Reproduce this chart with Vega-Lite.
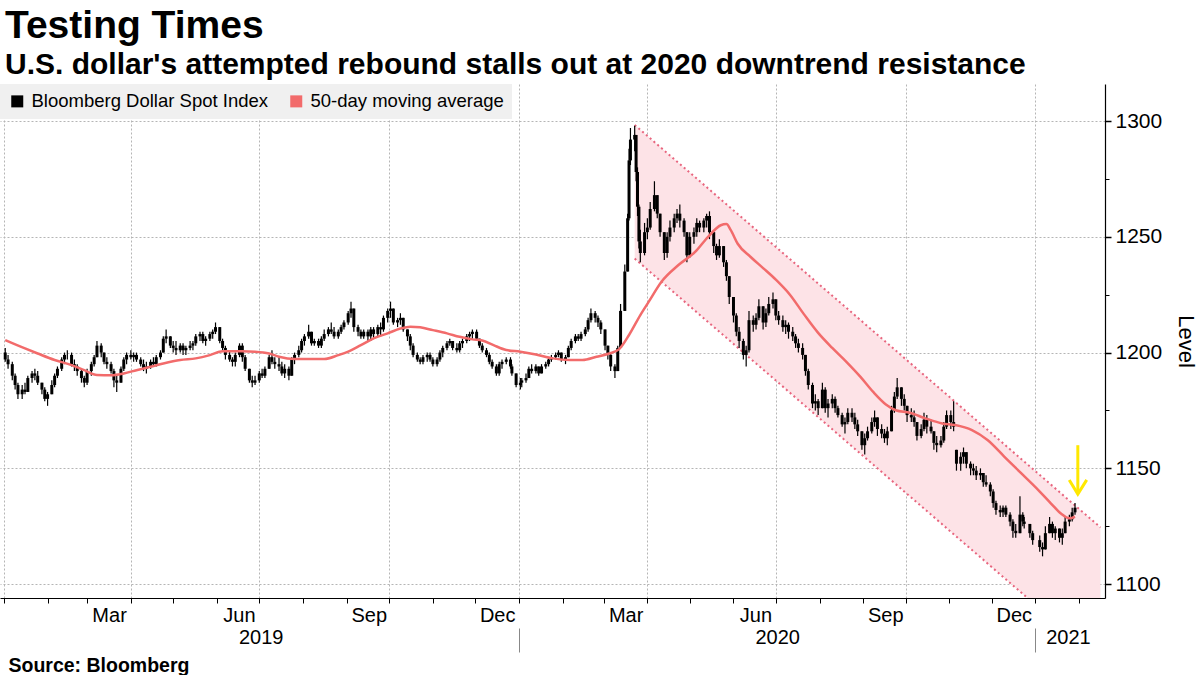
{
"$schema": "https://vega.github.io/schema/vega-lite/v6.json",
"width": 1105, "height": 514,
"autosize": {"type": "none"},
"padding": {"left": 0, "top": 84, "right": 95, "bottom": 77},
"background": "white",
"title": {"text": "Testing Times", "subtitle": "U.S. dollar's attempted rebound stalls out at 2020 downtrend resistance", "anchor": "start", "frame": "group", "dx": 5, "offset": 4, "font": "Liberation Sans", "fontSize": 39, "fontWeight": "bold", "color": "#000", "subtitleFont": "Liberation Sans", "subtitleFontSize": 30, "subtitleFontWeight": "bold", "subtitleColor": "#000", "subtitlePadding": 4},
"config": {"view": {"stroke": null}, "font": "Liberation Sans", "axis": {"labelFont": "Liberation Sans", "titleFont": "Liberation Sans", "labelColor": "#000", "titleColor": "#000"}},
"resolve": {"axis": {"x": "independent", "y": "independent"}},
"datasets": {
"ch": [{"d": "2020-03-23", "lo": 1240.6, "up": 1298.3}, {"d": "2021-02-16", "lo": 1066.8, "up": 1124.5}],
"ln": [{"d": "2020-03-23", "v": 1298.3, "k": "u"}, {"d": "2021-02-16", "v": 1124.5, "k": "u"}, {"d": "2020-03-23", "v": 1240.6, "k": "l"}, {"d": "2021-02-16", "v": 1066.8, "k": "l"}],
"ar": [{"d": "2021-01-31T00:00:00Z", "v": 1160.0, "g": "s"}, {"d": "2021-01-31T00:00:00Z", "v": 1139.2, "g": "s"}, {"d": "2021-01-24T22:00:00Z", "v": 1145.0, "g": "h"}, {"d": "2021-01-31T00:00:00Z", "v": 1138.9, "g": "h"}, {"d": "2021-02-06T07:00:00Z", "v": 1145.0, "g": "h"}],
"ma": [
{"d":"2019-01-02","v":1205.4},{"d":"2019-01-16","v":1201.8},{"d":"2019-01-25","v":1199.6},{"d":"2019-02-06","v":1196.8},{"d":"2019-02-18","v":1194.6},{"d":"2019-02-27","v":1192.4},{"d":"2019-03-08","v":1190.3},{"d":"2019-03-18","v":1190.2},{"d":"2019-03-27","v":1191.0},{"d":"2019-04-05","v":1192.4},{"d":"2019-04-15","v":1193.9},{"d":"2019-04-24","v":1195.3},{"d":"2019-05-06","v":1196.8},{"d":"2019-05-17","v":1197.5},{"d":"2019-05-27","v":1198.9},{"d":"2019-06-05","v":1200.6},{"d":"2019-06-19","v":1200.6},{"d":"2019-06-28","v":1200.4},{"d":"2019-07-08","v":1199.6},{"d":"2019-07-15","v":1198.2},{"d":"2019-07-26","v":1197.2},{"d":"2019-08-16","v":1197.2},{"d":"2019-08-26","v":1198.9},{"d":"2019-09-02","v":1200.4},{"d":"2019-09-11","v":1203.2},{"d":"2019-09-20","v":1206.1},{"d":"2019-09-30","v":1208.3},{"d":"2019-10-09","v":1210.4},{"d":"2019-10-16","v":1211.2},{"d":"2019-10-23","v":1210.9},{"d":"2019-11-01","v":1209.7},{"d":"2019-11-11","v":1208.3},{"d":"2019-11-20","v":1206.8},{"d":"2019-11-29","v":1205.7},{"d":"2019-12-06","v":1205.2},{"d":"2019-12-14","v":1203.2},{"d":"2019-12-23","v":1201.1},{"d":"2020-01-02","v":1200.4},{"d":"2020-01-13","v":1199.2},{"d":"2020-01-25","v":1197.5},{"d":"2020-02-06","v":1196.8},{"d":"2020-02-15","v":1196.8},{"d":"2020-02-25","v":1198.2},{"d":"2020-03-05","v":1199.6},{"d":"2020-03-12","v":1201.5},{"d":"2020-03-19","v":1207.6},{"d":"2020-03-27","v":1216.2},{"d":"2020-04-02","v":1222.0},{"d":"2020-04-11","v":1230.6},{"d":"2020-04-23","v":1237.8},{"d":"2020-05-05","v":1243.6},{"d":"2020-05-14","v":1250.0},{"d":"2020-05-23","v":1255.0},{"d":"2020-05-27","v":1255.5},{"d":"2020-05-30","v":1253.0},{"d":"2020-06-04","v":1247.0},{"d":"2020-06-13","v":1241.4},{"d":"2020-06-22","v":1236.5},{"d":"2020-07-01","v":1231.5},{"d":"2020-07-11","v":1225.0},{"d":"2020-07-21","v":1216.5},{"d":"2020-07-31","v":1208.5},{"d":"2020-08-10","v":1202.0},{"d":"2020-08-20","v":1196.0},{"d":"2020-08-30","v":1189.5},{"d":"2020-09-08","v":1183.0},{"d":"2020-09-17","v":1177.6},{"d":"2020-09-24","v":1175.1},{"d":"2020-10-04","v":1174.0},{"d":"2020-10-15","v":1171.6},{"d":"2020-10-27","v":1169.4},{"d":"2020-11-05","v":1168.7},{"d":"2020-11-17","v":1166.5},{"d":"2020-11-28","v":1162.2},{"d":"2020-12-10","v":1155.0},{"d":"2020-12-22","v":1147.8},{"d":"2021-01-03","v":1140.6},{"d":"2021-01-12","v":1134.8},{"d":"2021-01-19","v":1130.5},{"d":"2021-01-25","v":1128.4},{"d":"2021-01-29","v":1129.1}
],
"px": [
{"d":"2019-01-02","o":1200,"h":1202,"l":1196,"c":1197},
{"d":"2019-01-04","o":1197,"h":1199,"l":1193,"c":1195},
{"d":"2019-01-07","o":1195,"h":1196,"l":1188,"c":1190},
{"d":"2019-01-09","o":1190,"h":1191,"l":1184,"c":1186},
{"d":"2019-01-11","o":1186,"h":1187,"l":1180,"c":1182},
{"d":"2019-01-14","o":1182,"h":1186,"l":1180,"c":1184},
{"d":"2019-01-16","o":1184,"h":1187,"l":1182,"c":1183},
{"d":"2019-01-18","o":1183,"h":1190,"l":1183,"c":1189},
{"d":"2019-01-21","o":1189,"h":1192,"l":1187,"c":1191},
{"d":"2019-01-23","o":1191,"h":1193,"l":1188,"c":1190},
{"d":"2019-01-25","o":1190,"h":1192,"l":1186,"c":1187},
{"d":"2019-01-28","o":1187,"h":1187,"l":1182,"c":1184},
{"d":"2019-01-30","o":1184,"h":1185,"l":1179,"c":1180},
{"d":"2019-02-01","o":1180,"h":1183,"l":1177,"c":1182},
{"d":"2019-02-04","o":1182,"h":1188,"l":1182,"c":1186},
{"d":"2019-02-06","o":1186,"h":1191,"l":1185,"c":1190},
{"d":"2019-02-08","o":1190,"h":1194,"l":1189,"c":1193},
{"d":"2019-02-11","o":1193,"h":1198,"l":1192,"c":1197},
{"d":"2019-02-13","o":1197,"h":1200,"l":1195,"c":1199},
{"d":"2019-02-15","o":1199,"h":1201,"l":1197,"c":1199},
{"d":"2019-02-18","o":1199,"h":1200,"l":1194,"c":1195},
{"d":"2019-02-20","o":1195,"h":1197,"l":1192,"c":1194},
{"d":"2019-02-22","o":1194,"h":1195,"l":1190,"c":1192},
{"d":"2019-02-25","o":1192,"h":1193,"l":1187,"c":1189},
{"d":"2019-02-27","o":1189,"h":1190,"l":1185,"c":1187},
{"d":"2019-03-01","o":1187,"h":1193,"l":1186,"c":1192},
{"d":"2019-03-04","o":1192,"h":1196,"l":1190,"c":1195},
{"d":"2019-03-06","o":1195,"h":1199,"l":1194,"c":1198},
{"d":"2019-03-08","o":1198,"h":1205,"l":1198,"c":1203},
{"d":"2019-03-11","o":1203,"h":1204,"l":1198,"c":1200},
{"d":"2019-03-13","o":1200,"h":1200,"l":1195,"c":1196},
{"d":"2019-03-15","o":1196,"h":1198,"l":1193,"c":1195},
{"d":"2019-03-18","o":1195,"h":1196,"l":1191,"c":1192},
{"d":"2019-03-20","o":1192,"h":1193,"l":1185,"c":1188},
{"d":"2019-03-22","o":1188,"h":1190,"l":1183,"c":1187},
{"d":"2019-03-25","o":1187,"h":1194,"l":1187,"c":1193},
{"d":"2019-03-27","o":1193,"h":1198,"l":1192,"c":1197},
{"d":"2019-03-29","o":1197,"h":1200,"l":1195,"c":1199},
{"d":"2019-04-01","o":1199,"h":1201,"l":1197,"c":1198},
{"d":"2019-04-03","o":1198,"h":1200,"l":1196,"c":1199},
{"d":"2019-04-05","o":1199,"h":1200,"l":1196,"c":1197},
{"d":"2019-04-08","o":1197,"h":1198,"l":1194,"c":1195},
{"d":"2019-04-10","o":1195,"h":1197,"l":1192,"c":1193},
{"d":"2019-04-12","o":1193,"h":1196,"l":1191,"c":1194},
{"d":"2019-04-15","o":1194,"h":1197,"l":1193,"c":1196},
{"d":"2019-04-17","o":1196,"h":1198,"l":1194,"c":1195},
{"d":"2019-04-19","o":1195,"h":1199,"l":1194,"c":1198},
{"d":"2019-04-22","o":1198,"h":1201,"l":1197,"c":1200},
{"d":"2019-04-24","o":1200,"h":1207,"l":1200,"c":1206},
{"d":"2019-04-26","o":1206,"h":1210,"l":1204,"c":1207},
{"d":"2019-04-29","o":1207,"h":1207,"l":1202,"c":1203},
{"d":"2019-05-01","o":1203,"h":1205,"l":1200,"c":1202},
{"d":"2019-05-03","o":1202,"h":1205,"l":1199,"c":1201},
{"d":"2019-05-06","o":1201,"h":1204,"l":1200,"c":1203},
{"d":"2019-05-08","o":1203,"h":1204,"l":1199,"c":1201},
{"d":"2019-05-10","o":1201,"h":1203,"l":1199,"c":1202},
{"d":"2019-05-13","o":1202,"h":1205,"l":1201,"c":1203},
{"d":"2019-05-15","o":1203,"h":1205,"l":1201,"c":1204},
{"d":"2019-05-17","o":1204,"h":1208,"l":1203,"c":1207},
{"d":"2019-05-20","o":1207,"h":1209,"l":1205,"c":1208},
{"d":"2019-05-22","o":1208,"h":1209,"l":1204,"c":1205},
{"d":"2019-05-24","o":1205,"h":1207,"l":1203,"c":1206},
{"d":"2019-05-27","o":1206,"h":1209,"l":1205,"c":1208},
{"d":"2019-05-29","o":1208,"h":1210,"l":1206,"c":1209},
{"d":"2019-05-31","o":1209,"h":1213,"l":1208,"c":1211},
{"d":"2019-06-03","o":1211,"h":1211,"l":1204,"c":1205},
{"d":"2019-06-05","o":1205,"h":1206,"l":1201,"c":1202},
{"d":"2019-06-07","o":1202,"h":1203,"l":1197,"c":1199},
{"d":"2019-06-10","o":1199,"h":1201,"l":1196,"c":1197},
{"d":"2019-06-12","o":1197,"h":1198,"l":1194,"c":1196},
{"d":"2019-06-14","o":1196,"h":1200,"l":1194,"c":1199},
{"d":"2019-06-17","o":1199,"h":1204,"l":1198,"c":1203},
{"d":"2019-06-19","o":1203,"h":1204,"l":1196,"c":1198},
{"d":"2019-06-21","o":1198,"h":1199,"l":1192,"c":1193},
{"d":"2019-06-24","o":1193,"h":1193,"l":1187,"c":1188},
{"d":"2019-06-26","o":1188,"h":1190,"l":1185,"c":1187},
{"d":"2019-06-28","o":1187,"h":1190,"l":1186,"c":1188},
{"d":"2019-07-01","o":1188,"h":1192,"l":1187,"c":1191},
{"d":"2019-07-03","o":1191,"h":1193,"l":1189,"c":1190},
{"d":"2019-07-05","o":1190,"h":1194,"l":1189,"c":1193},
{"d":"2019-07-08","o":1193,"h":1199,"l":1193,"c":1198},
{"d":"2019-07-10","o":1198,"h":1201,"l":1195,"c":1196},
{"d":"2019-07-12","o":1196,"h":1198,"l":1193,"c":1195},
{"d":"2019-07-15","o":1195,"h":1198,"l":1192,"c":1194},
{"d":"2019-07-17","o":1194,"h":1196,"l":1190,"c":1191},
{"d":"2019-07-19","o":1191,"h":1195,"l":1189,"c":1193},
{"d":"2019-07-22","o":1193,"h":1194,"l":1188,"c":1190},
{"d":"2019-07-24","o":1190,"h":1198,"l":1190,"c":1197},
{"d":"2019-07-26","o":1197,"h":1200,"l":1195,"c":1199},
{"d":"2019-07-29","o":1199,"h":1203,"l":1198,"c":1201},
{"d":"2019-07-31","o":1201,"h":1206,"l":1200,"c":1205},
{"d":"2019-08-02","o":1205,"h":1208,"l":1203,"c":1207},
{"d":"2019-08-05","o":1207,"h":1212,"l":1206,"c":1209},
{"d":"2019-08-07","o":1209,"h":1209,"l":1203,"c":1204},
{"d":"2019-08-09","o":1204,"h":1206,"l":1203,"c":1205},
{"d":"2019-08-12","o":1205,"h":1206,"l":1202,"c":1203},
{"d":"2019-08-14","o":1203,"h":1207,"l":1202,"c":1206},
{"d":"2019-08-16","o":1206,"h":1210,"l":1205,"c":1208},
{"d":"2019-08-19","o":1208,"h":1211,"l":1207,"c":1210},
{"d":"2019-08-21","o":1210,"h":1213,"l":1208,"c":1209},
{"d":"2019-08-23","o":1209,"h":1211,"l":1206,"c":1207},
{"d":"2019-08-26","o":1207,"h":1210,"l":1206,"c":1209},
{"d":"2019-08-28","o":1209,"h":1212,"l":1208,"c":1211},
{"d":"2019-08-30","o":1211,"h":1214,"l":1210,"c":1213},
{"d":"2019-09-02","o":1213,"h":1218,"l":1212,"c":1217},
{"d":"2019-09-04","o":1217,"h":1222,"l":1215,"c":1219},
{"d":"2019-09-06","o":1219,"h":1219,"l":1209,"c":1211},
{"d":"2019-09-09","o":1211,"h":1212,"l":1207,"c":1209},
{"d":"2019-09-11","o":1209,"h":1210,"l":1206,"c":1207},
{"d":"2019-09-13","o":1207,"h":1210,"l":1206,"c":1209},
{"d":"2019-09-16","o":1209,"h":1210,"l":1205,"c":1207},
{"d":"2019-09-18","o":1207,"h":1211,"l":1205,"c":1210},
{"d":"2019-09-20","o":1210,"h":1211,"l":1206,"c":1208},
{"d":"2019-09-23","o":1208,"h":1212,"l":1207,"c":1211},
{"d":"2019-09-25","o":1211,"h":1213,"l":1207,"c":1210},
{"d":"2019-09-27","o":1210,"h":1216,"l":1209,"c":1215},
{"d":"2019-09-30","o":1215,"h":1219,"l":1213,"c":1218},
{"d":"2019-10-02","o":1218,"h":1222,"l":1215,"c":1219},
{"d":"2019-10-04","o":1219,"h":1219,"l":1212,"c":1213},
{"d":"2019-10-07","o":1213,"h":1215,"l":1211,"c":1214},
{"d":"2019-10-09","o":1214,"h":1217,"l":1212,"c":1215},
{"d":"2019-10-11","o":1215,"h":1215,"l":1209,"c":1210},
{"d":"2019-10-14","o":1210,"h":1210,"l":1205,"c":1207},
{"d":"2019-10-16","o":1207,"h":1208,"l":1201,"c":1203},
{"d":"2019-10-18","o":1203,"h":1204,"l":1198,"c":1199},
{"d":"2019-10-21","o":1199,"h":1200,"l":1196,"c":1197},
{"d":"2019-10-23","o":1197,"h":1198,"l":1195,"c":1196},
{"d":"2019-10-25","o":1196,"h":1199,"l":1195,"c":1198},
{"d":"2019-10-28","o":1198,"h":1200,"l":1196,"c":1199},
{"d":"2019-10-30","o":1199,"h":1200,"l":1196,"c":1197},
{"d":"2019-11-01","o":1197,"h":1198,"l":1194,"c":1195},
{"d":"2019-11-04","o":1195,"h":1198,"l":1194,"c":1197},
{"d":"2019-11-06","o":1197,"h":1201,"l":1196,"c":1200},
{"d":"2019-11-08","o":1200,"h":1203,"l":1198,"c":1202},
{"d":"2019-11-11","o":1202,"h":1205,"l":1201,"c":1204},
{"d":"2019-11-13","o":1204,"h":1206,"l":1203,"c":1205},
{"d":"2019-11-15","o":1205,"h":1205,"l":1201,"c":1202},
{"d":"2019-11-18","o":1202,"h":1204,"l":1200,"c":1201},
{"d":"2019-11-20","o":1201,"h":1205,"l":1200,"c":1204},
{"d":"2019-11-22","o":1204,"h":1206,"l":1202,"c":1205},
{"d":"2019-11-25","o":1205,"h":1208,"l":1204,"c":1207},
{"d":"2019-11-27","o":1207,"h":1209,"l":1205,"c":1208},
{"d":"2019-11-29","o":1208,"h":1210,"l":1206,"c":1209},
{"d":"2019-12-02","o":1209,"h":1210,"l":1205,"c":1206},
{"d":"2019-12-04","o":1206,"h":1206,"l":1202,"c":1203},
{"d":"2019-12-06","o":1203,"h":1204,"l":1200,"c":1201},
{"d":"2019-12-09","o":1201,"h":1202,"l":1198,"c":1199},
{"d":"2019-12-11","o":1199,"h":1200,"l":1195,"c":1196},
{"d":"2019-12-13","o":1196,"h":1197,"l":1193,"c":1194},
{"d":"2019-12-16","o":1194,"h":1195,"l":1190,"c":1191},
{"d":"2019-12-18","o":1191,"h":1196,"l":1190,"c":1195},
{"d":"2019-12-20","o":1195,"h":1197,"l":1193,"c":1196},
{"d":"2019-12-23","o":1196,"h":1198,"l":1195,"c":1197},
{"d":"2019-12-26","o":1197,"h":1198,"l":1193,"c":1194},
{"d":"2019-12-27","o":1194,"h":1195,"l":1190,"c":1191},
{"d":"2019-12-30","o":1191,"h":1191,"l":1185,"c":1186},
{"d":"2020-01-02","o":1186,"h":1189,"l":1184,"c":1187},
{"d":"2020-01-03","o":1187,"h":1189,"l":1185,"c":1188},
{"d":"2020-01-06","o":1188,"h":1191,"l":1187,"c":1189},
{"d":"2020-01-08","o":1189,"h":1194,"l":1189,"c":1193},
{"d":"2020-01-10","o":1193,"h":1195,"l":1191,"c":1192},
{"d":"2020-01-13","o":1192,"h":1195,"l":1191,"c":1194},
{"d":"2020-01-15","o":1194,"h":1194,"l":1190,"c":1191},
{"d":"2020-01-17","o":1191,"h":1195,"l":1191,"c":1194},
{"d":"2020-01-20","o":1194,"h":1196,"l":1193,"c":1195},
{"d":"2020-01-22","o":1195,"h":1198,"l":1194,"c":1197},
{"d":"2020-01-24","o":1197,"h":1199,"l":1196,"c":1198},
{"d":"2020-01-27","o":1198,"h":1200,"l":1197,"c":1199},
{"d":"2020-01-29","o":1199,"h":1201,"l":1198,"c":1200},
{"d":"2020-01-31","o":1200,"h":1200,"l":1196,"c":1197},
{"d":"2020-02-03","o":1197,"h":1199,"l":1195,"c":1198},
{"d":"2020-02-05","o":1198,"h":1203,"l":1198,"c":1202},
{"d":"2020-02-07","o":1202,"h":1206,"l":1201,"c":1205},
{"d":"2020-02-10","o":1205,"h":1208,"l":1204,"c":1207},
{"d":"2020-02-12","o":1207,"h":1208,"l":1205,"c":1206},
{"d":"2020-02-14","o":1206,"h":1209,"l":1205,"c":1208},
{"d":"2020-02-17","o":1208,"h":1211,"l":1207,"c":1210},
{"d":"2020-02-19","o":1210,"h":1215,"l":1209,"c":1214},
{"d":"2020-02-21","o":1214,"h":1219,"l":1213,"c":1217},
{"d":"2020-02-24","o":1217,"h":1218,"l":1213,"c":1215},
{"d":"2020-02-26","o":1215,"h":1216,"l":1211,"c":1213},
{"d":"2020-02-28","o":1213,"h":1214,"l":1208,"c":1210},
{"d":"2020-03-02","o":1210,"h":1210,"l":1201,"c":1203},
{"d":"2020-03-04","o":1203,"h":1203,"l":1197,"c":1199},
{"d":"2020-03-06","o":1199,"h":1200,"l":1192,"c":1194},
{"d":"2020-03-09","o":1194,"h":1195,"l":1189,"c":1192},
{"d":"2020-03-11","o":1192,"h":1203,"l":1192,"c":1202},
{"d":"2020-03-13","o":1202,"h":1221,"l":1202,"c":1218},
{"d":"2020-03-16","o":1218,"h":1238,"l":1218,"c":1235},
{"d":"2020-03-18","o":1235,"h":1260,"l":1235,"c":1258},
{"d":"2020-03-19","o":1258,"h":1288,"l":1257,"c":1283},
{"d":"2020-03-20","o":1283,"h":1297,"l":1281,"c":1292},
{"d":"2020-03-23","o":1292,"h":1298,"l":1287,"c":1294},
{"d":"2020-03-24","o":1294,"h":1294,"l":1274,"c":1278},
{"d":"2020-03-25","o":1278,"h":1280,"l":1259,"c":1263},
{"d":"2020-03-26","o":1263,"h":1264,"l":1245,"c":1248},
{"d":"2020-03-27","o":1248,"h":1253,"l":1239,"c":1243},
{"d":"2020-03-30","o":1243,"h":1256,"l":1242,"c":1252},
{"d":"2020-04-01","o":1252,"h":1258,"l":1249,"c":1254},
{"d":"2020-04-03","o":1254,"h":1265,"l":1253,"c":1262},
{"d":"2020-04-06","o":1262,"h":1274,"l":1261,"c":1268},
{"d":"2020-04-08","o":1268,"h":1268,"l":1258,"c":1260},
{"d":"2020-04-10","o":1260,"h":1260,"l":1250,"c":1252},
{"d":"2020-04-13","o":1252,"h":1252,"l":1240,"c":1243},
{"d":"2020-04-15","o":1243,"h":1252,"l":1241,"c":1250},
{"d":"2020-04-17","o":1250,"h":1257,"l":1248,"c":1254},
{"d":"2020-04-20","o":1254,"h":1260,"l":1252,"c":1258},
{"d":"2020-04-22","o":1258,"h":1262,"l":1256,"c":1260},
{"d":"2020-04-24","o":1260,"h":1264,"l":1254,"c":1257},
{"d":"2020-04-27","o":1257,"h":1258,"l":1250,"c":1252},
{"d":"2020-04-29","o":1252,"h":1252,"l":1239,"c":1242},
{"d":"2020-05-01","o":1242,"h":1252,"l":1241,"c":1250},
{"d":"2020-05-04","o":1250,"h":1254,"l":1247,"c":1252},
{"d":"2020-05-06","o":1252,"h":1258,"l":1250,"c":1256},
{"d":"2020-05-08","o":1256,"h":1257,"l":1252,"c":1254},
{"d":"2020-05-11","o":1254,"h":1258,"l":1252,"c":1257},
{"d":"2020-05-13","o":1257,"h":1260,"l":1254,"c":1259},
{"d":"2020-05-15","o":1259,"h":1261,"l":1249,"c":1252},
{"d":"2020-05-18","o":1252,"h":1252,"l":1243,"c":1246},
{"d":"2020-05-20","o":1246,"h":1247,"l":1240,"c":1242},
{"d":"2020-05-22","o":1242,"h":1249,"l":1241,"c":1246},
{"d":"2020-05-25","o":1246,"h":1246,"l":1237,"c":1239},
{"d":"2020-05-27","o":1239,"h":1240,"l":1231,"c":1233},
{"d":"2020-05-29","o":1233,"h":1233,"l":1221,"c":1224},
{"d":"2020-06-01","o":1224,"h":1224,"l":1213,"c":1216},
{"d":"2020-06-03","o":1216,"h":1217,"l":1207,"c":1209},
{"d":"2020-06-05","o":1209,"h":1211,"l":1202,"c":1205},
{"d":"2020-06-08","o":1205,"h":1206,"l":1197,"c":1199},
{"d":"2020-06-10","o":1199,"h":1203,"l":1194,"c":1201},
{"d":"2020-06-12","o":1201,"h":1218,"l":1200,"c":1214},
{"d":"2020-06-15","o":1214,"h":1216,"l":1209,"c":1212},
{"d":"2020-06-17","o":1212,"h":1217,"l":1210,"c":1215},
{"d":"2020-06-19","o":1215,"h":1223,"l":1214,"c":1220},
{"d":"2020-06-22","o":1220,"h":1220,"l":1210,"c":1213},
{"d":"2020-06-24","o":1213,"h":1219,"l":1211,"c":1217},
{"d":"2020-06-26","o":1217,"h":1224,"l":1216,"c":1221},
{"d":"2020-06-29","o":1221,"h":1226,"l":1219,"c":1223},
{"d":"2020-07-01","o":1223,"h":1223,"l":1214,"c":1216},
{"d":"2020-07-03","o":1216,"h":1218,"l":1212,"c":1214},
{"d":"2020-07-06","o":1214,"h":1216,"l":1209,"c":1211},
{"d":"2020-07-08","o":1211,"h":1214,"l":1208,"c":1212},
{"d":"2020-07-10","o":1212,"h":1213,"l":1206,"c":1209},
{"d":"2020-07-13","o":1209,"h":1211,"l":1205,"c":1207},
{"d":"2020-07-15","o":1207,"h":1208,"l":1202,"c":1204},
{"d":"2020-07-17","o":1204,"h":1206,"l":1200,"c":1202},
{"d":"2020-07-20","o":1202,"h":1204,"l":1197,"c":1199},
{"d":"2020-07-22","o":1199,"h":1199,"l":1190,"c":1192},
{"d":"2020-07-24","o":1192,"h":1193,"l":1184,"c":1186},
{"d":"2020-07-27","o":1186,"h":1187,"l":1176,"c":1178},
{"d":"2020-07-29","o":1178,"h":1182,"l":1175,"c":1179},
{"d":"2020-07-31","o":1179,"h":1180,"l":1173,"c":1176},
{"d":"2020-08-03","o":1176,"h":1187,"l":1176,"c":1184},
{"d":"2020-08-05","o":1184,"h":1185,"l":1174,"c":1176},
{"d":"2020-08-07","o":1176,"h":1180,"l":1172,"c":1178},
{"d":"2020-08-10","o":1178,"h":1182,"l":1176,"c":1180},
{"d":"2020-08-12","o":1180,"h":1181,"l":1174,"c":1176},
{"d":"2020-08-14","o":1176,"h":1177,"l":1172,"c":1173},
{"d":"2020-08-17","o":1173,"h":1174,"l":1168,"c":1169},
{"d":"2020-08-19","o":1169,"h":1172,"l":1165,"c":1170},
{"d":"2020-08-21","o":1170,"h":1176,"l":1169,"c":1174},
{"d":"2020-08-24","o":1174,"h":1176,"l":1170,"c":1172},
{"d":"2020-08-26","o":1172,"h":1174,"l":1167,"c":1169},
{"d":"2020-08-28","o":1169,"h":1171,"l":1164,"c":1166},
{"d":"2020-08-31","o":1166,"h":1166,"l":1158,"c":1160},
{"d":"2020-09-02","o":1160,"h":1165,"l":1156,"c":1163},
{"d":"2020-09-04","o":1163,"h":1168,"l":1162,"c":1166},
{"d":"2020-09-07","o":1166,"h":1172,"l":1165,"c":1170},
{"d":"2020-09-09","o":1170,"h":1175,"l":1168,"c":1172},
{"d":"2020-09-11","o":1172,"h":1172,"l":1164,"c":1167},
{"d":"2020-09-14","o":1167,"h":1169,"l":1163,"c":1165},
{"d":"2020-09-16","o":1165,"h":1167,"l":1161,"c":1163},
{"d":"2020-09-18","o":1163,"h":1168,"l":1160,"c":1166},
{"d":"2020-09-21","o":1166,"h":1177,"l":1166,"c":1175},
{"d":"2020-09-23","o":1175,"h":1183,"l":1174,"c":1181},
{"d":"2020-09-25","o":1181,"h":1189,"l":1180,"c":1185},
{"d":"2020-09-28","o":1185,"h":1185,"l":1177,"c":1180},
{"d":"2020-09-30","o":1180,"h":1182,"l":1175,"c":1177},
{"d":"2020-10-02","o":1177,"h":1177,"l":1170,"c":1173},
{"d":"2020-10-05","o":1173,"h":1176,"l":1170,"c":1172},
{"d":"2020-10-07","o":1172,"h":1175,"l":1168,"c":1170},
{"d":"2020-10-09","o":1170,"h":1170,"l":1162,"c":1164},
{"d":"2020-10-12","o":1164,"h":1169,"l":1163,"c":1167},
{"d":"2020-10-14","o":1167,"h":1174,"l":1166,"c":1171},
{"d":"2020-10-16","o":1171,"h":1173,"l":1165,"c":1168},
{"d":"2020-10-19","o":1168,"h":1171,"l":1165,"c":1166},
{"d":"2020-10-21","o":1166,"h":1166,"l":1158,"c":1161},
{"d":"2020-10-23","o":1161,"h":1164,"l":1157,"c":1160},
{"d":"2020-10-26","o":1160,"h":1164,"l":1159,"c":1162},
{"d":"2020-10-28","o":1162,"h":1170,"l":1161,"c":1168},
{"d":"2020-10-30","o":1168,"h":1175,"l":1167,"c":1173},
{"d":"2020-11-02","o":1173,"h":1175,"l":1167,"c":1170},
{"d":"2020-11-04","o":1170,"h":1179,"l":1166,"c":1168},
{"d":"2020-11-06","o":1158,"h":1158,"l":1149,"c":1152},
{"d":"2020-11-09","o":1152,"h":1157,"l":1149,"c":1155},
{"d":"2020-11-11","o":1155,"h":1159,"l":1152,"c":1157},
{"d":"2020-11-13","o":1157,"h":1157,"l":1150,"c":1152},
{"d":"2020-11-16","o":1152,"h":1153,"l":1147,"c":1150},
{"d":"2020-11-18","o":1150,"h":1152,"l":1147,"c":1149},
{"d":"2020-11-20","o":1149,"h":1151,"l":1145,"c":1147},
{"d":"2020-11-23","o":1147,"h":1150,"l":1145,"c":1148},
{"d":"2020-11-25","o":1148,"h":1148,"l":1142,"c":1144},
{"d":"2020-11-27","o":1144,"h":1147,"l":1142,"c":1143},
{"d":"2020-11-30","o":1143,"h":1144,"l":1138,"c":1140},
{"d":"2020-12-02","o":1140,"h":1141,"l":1133,"c":1135},
{"d":"2020-12-04","o":1135,"h":1136,"l":1130,"c":1132},
{"d":"2020-12-07","o":1132,"h":1134,"l":1129,"c":1131},
{"d":"2020-12-09","o":1131,"h":1134,"l":1129,"c":1133},
{"d":"2020-12-11","o":1133,"h":1134,"l":1129,"c":1130},
{"d":"2020-12-14","o":1130,"h":1131,"l":1125,"c":1127},
{"d":"2020-12-16","o":1127,"h":1128,"l":1120,"c":1123},
{"d":"2020-12-18","o":1123,"h":1126,"l":1120,"c":1122},
{"d":"2020-12-21","o":1122,"h":1138,"l":1122,"c":1130},
{"d":"2020-12-23","o":1130,"h":1131,"l":1125,"c":1127},
{"d":"2020-12-24","o":1127,"h":1129,"l":1124,"c":1126},
{"d":"2020-12-28","o":1126,"h":1126,"l":1120,"c":1122},
{"d":"2020-12-30","o":1122,"h":1123,"l":1117,"c":1119},
{"d":"2021-01-04","o":1119,"h":1121,"l":1114,"c":1116},
{"d":"2021-01-06","o":1116,"h":1118,"l":1112,"c":1115},
{"d":"2021-01-08","o":1115,"h":1125,"l":1115,"c":1122},
{"d":"2021-01-11","o":1122,"h":1129,"l":1122,"c":1126},
{"d":"2021-01-13","o":1126,"h":1127,"l":1120,"c":1122},
{"d":"2021-01-15","o":1122,"h":1125,"l":1119,"c":1124},
{"d":"2021-01-18","o":1124,"h":1124,"l":1118,"c":1120},
{"d":"2021-01-20","o":1120,"h":1124,"l":1117,"c":1122},
{"d":"2021-01-22","o":1122,"h":1129,"l":1122,"c":1127},
{"d":"2021-01-25","o":1127,"h":1130,"l":1125,"c":1128},
{"d":"2021-01-27","o":1128,"h":1133,"l":1127,"c":1131},
{"d":"2021-01-29","o":1131,"h":1135,"l":1130,"c":1133}
]
},
"layer": [
{"data": {"name": "ch"},
 "mark": {"type": "area", "color": "#fde3e7", "clip": true},
 "encoding": {
  "x": {"field": "d", "type": "temporal",
   "scale": {"type": "utc", "domain": [{"year": 2019, "month": 1, "date": 1, "hours": 20, "utc": true}, {"year": 2021, "month": 2, "date": 15, "hours": 17, "utc": true}]},
   "axis": {"orient": "bottom", "tickCount": {"interval": "month", "step": 1}, "format": "%b", "labelExpr": "utcmonth(datum.value) % 3 == 2 ? datum.label : ''", "labelOffset": 22, "labelFlush": false, "labelOverlap": false, "labelBound": false, "labelFontSize": 20, "labelPadding": 2, "ticks": true, "tickSize": 5, "tickColor": "#000", "domain": true, "domainColor": "#000", "domainWidth": 1.2, "grid": true, "gridDash": [2, 2], "gridColor": "#b5b5b5", "gridOpacity": {"condition": {"test": "utcmonth(datum.value) % 3 == 0", "value": 1}, "value": 0}, "title": null}},
  "y": {"field": "lo", "type": "quantitative", "scale": {"domain": [1094, 1316], "zero": false, "nice": false},
   "axis": {"orient": "right", "values": [1100, 1150, 1200, 1250, 1300], "format": "d", "grid": true, "gridDash": [2, 2], "gridColor": "#b5b5b5", "ticks": true, "tickSize": 6, "tickWidth": 1.5, "tickColor": "#000", "domain": true, "domainColor": "#000", "domainWidth": 1.2, "labelFontSize": 21, "labelPadding": 4, "title": "Level", "titleFontSize": 22, "titleFontWeight": "normal", "titlePadding": 12, "titleAngle": 90}},
  "y2": {"field": "up"}
 }},
{"data": {"name": "ln"},
 "mark": {"type": "line", "color": "#e8657e", "strokeWidth": 2, "strokeDash": [2, 3], "clip": true},
 "encoding": {
  "x": {"field": "d", "type": "temporal", "scale": {"type": "utc"}, "axis": null},
  "y": {"field": "v", "type": "quantitative", "axis": {"orient": "right", "values": [1125, 1175, 1225, 1275], "grid": false, "domain": false, "labels": false, "ticks": true, "tickSize": 4, "tickColor": "#000", "title": null}},
  "detail": {"field": "k"}
 }},
{"data": {"name": "px"},
 "mark": {"type": "rule", "color": "#000", "strokeWidth": 1.2},
 "encoding": {
  "x": {"field": "d", "type": "temporal", "scale": {"type": "utc"},
   "axis": {"orient": "bottom", "values": [{"year": 2019, "month": 7, "date": 2, "utc": true}, {"year": 2020, "month": 7, "date": 2, "utc": true}, {"year": 2021, "month": 1, "date": 24, "utc": true}], "format": "%Y", "ticks": false, "tickSize": 0, "domain": false, "grid": false, "labelFontSize": 20, "labelPadding": 29, "labelFlush": false, "labelOverlap": false, "labelBound": false, "title": "Source: Bloomberg", "titleFontSize": 19.5, "titleFontWeight": "bold", "titleAnchor": "start", "titleAlign": "left", "titleX": 8, "titleY": 73, "titleBaseline": "alphabetic"}},
  "y": {"field": "l", "type": "quantitative", "axis": null},
  "y2": {"field": "h"}
 }},
{"data": {"name": "px"},
 "mark": {"type": "bar", "size": 3},
 "encoding": {
  "x": {"field": "d", "type": "temporal", "scale": {"type": "utc"},
   "axis": {"orient": "bottom", "values": [{"year": 2020, "month": 1, "date": 1, "utc": true}, {"year": 2021, "month": 1, "date": 1, "utc": true}], "offset": 30, "ticks": true, "tickSize": 24, "tickColor": "#888", "domain": false, "labels": false, "grid": false, "title": null}},
  "y": {"field": "o", "type": "quantitative", "axis": null},
  "y2": {"field": "c"},
  "color": {"datum": "Bloomberg Dollar Spot Index", "type": "nominal",
   "scale": {"domain": ["Bloomberg Dollar Spot Index", "50-day moving average"], "range": ["#000000", "#f26b6b"]},
   "legend": {"orient": "top-left", "direction": "horizontal", "title": null, "symbolType": "square", "symbolSize": 144, "symbolStrokeWidth": 0, "labelFontSize": 18.5, "labelFont": "Liberation Sans", "labelColor": "#000", "labelLimit": 500, "fillColor": "#f0f0f0", "padding": 8, "columnPadding": 18, "labelOffset": 5, "offset": 0}}
 }},
{"data": {"name": "ma"},
 "mark": {"type": "line", "strokeWidth": 2.5, "interpolate": "monotone"},
 "encoding": {
  "x": {"field": "d", "type": "temporal", "scale": {"type": "utc"}, "axis": null},
  "y": {"field": "v", "type": "quantitative", "axis": null},
  "color": {"datum": "50-day moving average", "type": "nominal"}
 }},
{"data": {"name": "ar"},
 "mark": {"type": "line", "color": "#ffe800", "strokeWidth": 3},
 "encoding": {
  "x": {"field": "d", "type": "temporal", "scale": {"type": "utc"}, "axis": null},
  "y": {"field": "v", "type": "quantitative", "axis": null},
  "detail": {"field": "g"}
 }}
]
}
